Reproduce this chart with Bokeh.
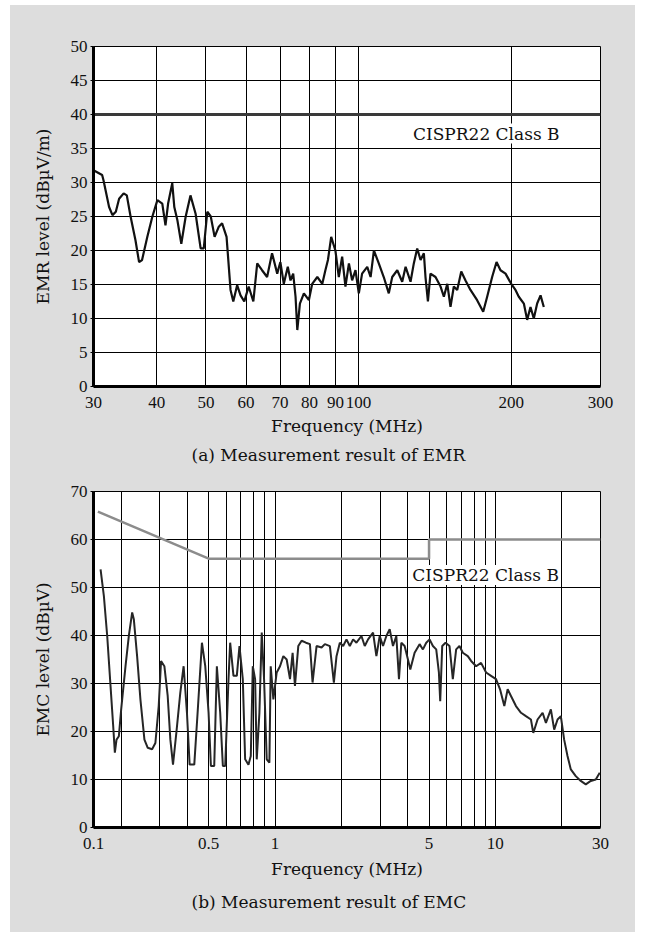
from bokeh.plotting import figure
from bokeh.models import Range1d, FixedTicker, CustomJSTickFormatter, Label, Title, Spacer
from bokeh.layouts import column, row
from bokeh.embed import file_html
from bokeh.resources import INLINE

# ---------------- (a) EMR (radiated) ----------------
emr_freq = [30.0, 31.2, 31.4, 32.2, 32.7, 33.2, 33.7, 34.4, 34.9, 35.5,
            36.3, 36.9, 37.4, 38.3, 39.2, 40.1, 41.0, 41.6, 42.1, 42.9,
            43.3, 43.9, 44.7, 45.6, 46.6, 47.7, 48.8, 49.5, 50.3, 51.1,
            52.0, 53.0, 53.8, 54.9, 55.9, 56.6, 57.6, 58.5, 59.5, 60.7,
            62.0, 63.1, 64.5, 66.0, 67.5, 69.1, 70.1, 71.2, 72.5, 73.4,
            74.3, 75.1, 75.7, 76.6, 78.0, 79.8, 81.0, 82.9, 84.8, 86.0,
            87.0, 88.3, 90.0, 91.4, 92.8, 94.2, 95.7, 97.1, 98.6, 100.1,
            101.6, 104.0, 105.6, 107.2, 109.6, 112.1, 114.7, 116.5, 119.2, 121.9,
            123.8, 126.6, 128.5, 130.5, 132.5, 134.5, 135.5, 137.0, 138.6, 141.8,
            145.1, 147.3, 149.6, 151.8, 154.1, 156.5, 159.4, 162.5, 166.2, 171.3,
            176.1, 179.3, 183.4, 187.1, 190.5, 194.9, 200.0, 203.9, 207.0, 211.8,
            215.0, 218.3, 221.6, 225.0, 228.5, 231.9]
emr_level = [31.8, 31.1, 30.3, 26.4, 25.2, 25.7, 27.6, 28.4, 28.1, 25.0,
             21.5, 18.3, 18.6, 22.0, 25.0, 27.4, 26.9, 23.7, 26.9, 29.9,
             26.4, 24.5, 21.0, 25.0, 28.1, 25.4, 20.3, 20.3, 25.7, 25.0,
             22.0, 23.5, 24.0, 22.0, 14.2, 12.5, 14.9, 13.4, 12.5, 14.7,
             12.5, 18.1, 17.1, 16.1, 19.6, 16.6, 18.3, 15.1, 17.6, 15.6,
             16.6, 13.2, 8.3, 12.2, 13.7, 12.7, 15.1, 16.1, 15.1, 17.1,
             18.6, 22.0, 20.0, 16.1, 19.1, 14.7, 18.1, 15.6, 17.1, 13.7,
             16.6, 17.6, 16.1, 20.0, 18.1, 16.1, 13.7, 16.1, 17.1, 15.4,
             17.6, 15.4, 18.1, 20.3, 18.6, 19.6, 16.1, 12.5, 16.6, 16.1,
             14.7, 13.2, 15.1, 11.7, 14.7, 14.2, 16.9, 15.6, 14.2, 12.7,
             11.0, 13.2, 16.1, 18.3, 17.1, 16.6, 15.1, 14.2, 13.2, 12.2,
             9.8, 11.7, 10.0, 12.2, 13.4, 11.7]
emr_limit_freq = [30, 300]
emr_limit_level = [40, 40]
emr_xticks = [30, 40, 50, 60, 70, 80, 90, 100, 200, 300]
emr_xtick_labels = ["30", "40", "50", "60", "70", "80", "90", "100", "200", "300"]
emr_xgrid = [40, 50, 60, 70, 80, 90, 100, 200]
emr_yticks = [0, 5, 10, 15, 20, 25, 30, 35, 40, 45, 50]
emr_ygrid = [5, 10, 15, 20, 25, 30, 35, 40, 45]

# ---------------- (b) EMC (conducted) ----------------
emc_freq = [0.1615, 0.1672, 0.1731, 0.1792, 0.1843, 0.1875, 0.1908, 0.1955, 0.2003, 0.2096,
            0.2170, 0.2247, 0.2286, 0.2366, 0.2449, 0.2554, 0.2644, 0.2767, 0.2864, 0.2965,
            0.3039, 0.3146, 0.3257, 0.3349, 0.3443, 0.3565, 0.3716, 0.3847, 0.3983, 0.4096,
            0.4300, 0.4452, 0.4658, 0.4823, 0.4993, 0.5116, 0.5297, 0.5445, 0.5638, 0.5797,
            0.5940, 0.6149, 0.6257, 0.6478, 0.6707, 0.6896, 0.7140, 0.7316, 0.7575, 0.7762,
            0.7925, 0.8120, 0.8260, 0.8493, 0.8704, 0.8917, 0.9169, 0.9427, 0.9559, 0.9828,
            1.0175, 1.0535, 1.0907, 1.1293, 1.1693, 1.2017, 1.2314, 1.2750, 1.3201, 1.3810,
            1.4399, 1.4803, 1.5433, 1.6261, 1.6835, 1.7738, 1.8493, 1.9011, 1.9683, 2.0379,
            2.1099, 2.1845, 2.2614, 2.3414, 2.4669, 2.5537, 2.6440, 2.7854, 2.8840, 2.9859,
            3.0914, 3.2007, 3.3138, 3.4304, 3.5517, 3.6521, 3.7423, 3.8739, 4.0109, 4.1099,
            4.3000, 4.5300, 4.6900, 4.8559, 5.0276, 5.2056, 5.3896, 5.5418, 5.6190, 5.7377,
            5.9406, 6.1930, 6.4108, 6.6374, 6.8722, 7.1151, 7.4952, 7.7606, 8.1772, 8.6110,
            9.0763, 9.5592, 10.07, 10.50, 10.98, 11.37, 11.77, 12.40, 13.07, 13.76,
            14.50, 14.86, 15.54, 16.38, 16.96, 17.86, 18.49, 19.15, 19.82, 20.52,
            21.25, 22.00, 23.17, 24.41, 25.72, 27.10, 28.55, 29.76]
emc_level = [53.8, 48.2, 39.9, 29.5, 21.1, 15.6, 18.3, 19.0, 24.6, 33.6,
             39.9, 44.8, 43.4, 35.7, 26.7, 18.3, 16.6, 16.3, 17.6, 25.3,
             34.7, 33.6, 27.4, 18.3, 13.1, 19.7, 28.1, 33.6, 23.9, 13.1,
             13.1, 23.9, 38.5, 33.6, 23.9, 12.8, 12.8, 33.6, 23.9, 12.8,
             12.8, 30.9, 38.5, 31.6, 31.6, 37.8, 30.9, 14.2, 13.1, 14.9,
             33.6, 30.9, 14.2, 23.9, 40.6, 30.9, 14.2, 13.5, 33.6, 26.7,
             32.3, 33.6, 35.7, 35.0, 30.9, 36.4, 29.5, 37.8, 38.9, 38.5,
             38.2, 30.2, 37.8, 37.5, 38.2, 37.8, 30.2, 35.7, 38.5, 37.8,
             39.2, 37.8, 39.2, 38.5, 39.9, 37.8, 39.2, 40.6, 35.7, 39.9,
             37.8, 39.9, 41.3, 37.8, 39.9, 30.9, 38.5, 37.8, 35.0, 32.9,
             36.4, 38.2, 37.1, 38.5, 39.2, 37.8, 37.1, 32.3, 26.3, 37.8,
             38.5, 37.8, 30.9, 37.1, 37.8, 36.4, 35.7, 34.7, 33.6, 34.3,
             32.3, 31.6, 30.9, 28.8, 25.3, 28.8, 27.4, 25.3, 23.9, 23.2,
             22.5, 19.7, 22.5, 23.9, 21.8, 24.6, 20.4, 22.5, 23.2, 18.3,
             14.9, 12.1, 10.7, 9.7, 9.0, 9.7, 10.0, 11.4]
emc_limit_freq = [0.157, 0.5, 5, 5, 30]
emc_limit_level = [65.8, 56, 56, 60, 60]
emc_xticks = [0.15, 0.5, 1, 5, 10, 30]
emc_xtick_labels = ["0.1", "0.5", "1", "5", "10", "30"]
emc_xgrid = [0.2, 0.3, 0.4, 0.5, 0.6, 0.7, 0.8, 0.9, 1, 2, 3, 4, 5, 6, 7, 8, 9, 10, 20]
emc_yticks = [0, 10, 20, 30, 40, 50, 60, 70]
emc_ygrid = [10, 20, 30, 40, 50, 60]

GRAY = "#dddddd"
TICK_FONT = "Liberation Serif"
TEXT_FONT = "DejaVu Serif"
INK = "#111111"


def fmt(vals, labs):
    return CustomJSTickFormatter(args=dict(vals=vals, labs=labs), code="""
        for (let i = 0; i < vals.length; i++) {
            if (Math.abs(vals[i] - tick) <= 1e-6 * Math.abs(vals[i])) { return labs[i]; }
        }
        return "";
    """)


def make_fig(height, top, bottom, xr, yr, xticks, xlabels, xgrid, yticks, ygrid,
             ylabel, caption, tick_sd, label_sd, cap_sd):
    p = figure(width=625, height=height, x_axis_type="log",
               x_range=Range1d(*xr), y_range=Range1d(*yr),
               output_backend="svg", toolbar_location=None,
               min_border_left=83, min_border_right=35,
               min_border_top=top, min_border_bottom=bottom,
               background_fill_color="white", border_fill_color=GRAY,
               outline_line_color="black", outline_line_width=1)
    p.xaxis.ticker = FixedTicker(ticks=xticks)
    p.xaxis.formatter = fmt(xticks, xlabels)
    p.yaxis.ticker = FixedTicker(ticks=yticks)
    p.xgrid.ticker = FixedTicker(ticks=xgrid)
    p.ygrid.ticker = FixedTicker(ticks=ygrid)
    for g in (p.xgrid, p.ygrid):
        g.grid_line_color = "black"
        g.grid_line_width = 1
        g.grid_line_alpha = 1.0
    for ax in (p.xaxis, p.yaxis):
        ax.axis_line_width = 3
        ax.axis_line_color = "black"
        ax.major_tick_in = 0
        ax.minor_tick_in = 0
        ax.minor_tick_out = 0
        ax.major_tick_line_color = "black"
        ax.major_label_text_font = TICK_FONT
        ax.major_label_text_font_size = "17px"
        ax.major_label_text_color = INK
        ax.axis_label_text_font = TEXT_FONT
        ax.axis_label_text_font_size = "17px"
        ax.axis_label_text_font_style = "normal"
        ax.axis_label_text_color = INK
    p.xaxis.major_tick_out = 0
    p.xaxis.major_label_standoff = tick_sd
    p.xaxis.axis_label = "Frequency (MHz)"
    p.xaxis.axis_label_standoff = label_sd
    p.yaxis.major_tick_out = 3
    p.yaxis.major_label_standoff = 3
    p.yaxis.axis_label = ylabel
    p.yaxis.axis_label_standoff = 15
    p.add_layout(Title(text=caption, align="left", offset=98,
                       text_font=TEXT_FONT, text_font_size="17px",
                       text_font_style="normal", text_color=INK, standoff=cap_sd),
                 "below")
    return p


p1 = make_fig(465, 41, 84, (30, 300), (0, 50), emr_xticks, emr_xtick_labels, emr_xgrid,
              emr_yticks, emr_ygrid, "EMR level (dBµV/m)",
              "(a) Measurement result of EMR", 10, 5, 9)
p1.line(emr_limit_freq, emr_limit_level, line_color="#3a3a3a", line_width=3)
p1.line(emr_freq, emr_level, line_color="#111111", line_width=2.2)
p1.add_layout(Label(x=128, y=37.2, text="CISPR22 Class B", text_baseline="middle",
                    text_font=TEXT_FONT, text_font_size="17px", text_color=INK,
                    background_fill_color="white"))

p2 = make_fig(462, 21, 105, (0.15, 30), (0, 70), emc_xticks, emc_xtick_labels, emc_xgrid,
              emc_yticks, emc_ygrid, "EMC level (dBµV)",
              "(b) Measurement result of EMC", 10, 7, 16)
p2.line(emc_limit_freq, emc_limit_level, line_color="#8c8c8c", line_width=2.5)
p2.line(emc_freq, emc_level, line_color="#262626", line_width=2)
p2.add_layout(Label(x=4.2, y=52.6, text="CISPR22 Class B", text_baseline="middle",
                    text_font=TEXT_FONT, text_font_size="17px", text_color=INK,
                    background_fill_color="white"))

panel = column(p1, p2, spacing=0, styles={"background-color": GRAY})
layout = row(Spacer(width=10), column(Spacer(height=5), panel, spacing=0), spacing=0)
open("out.html", "w").write(file_html(layout, INLINE))
